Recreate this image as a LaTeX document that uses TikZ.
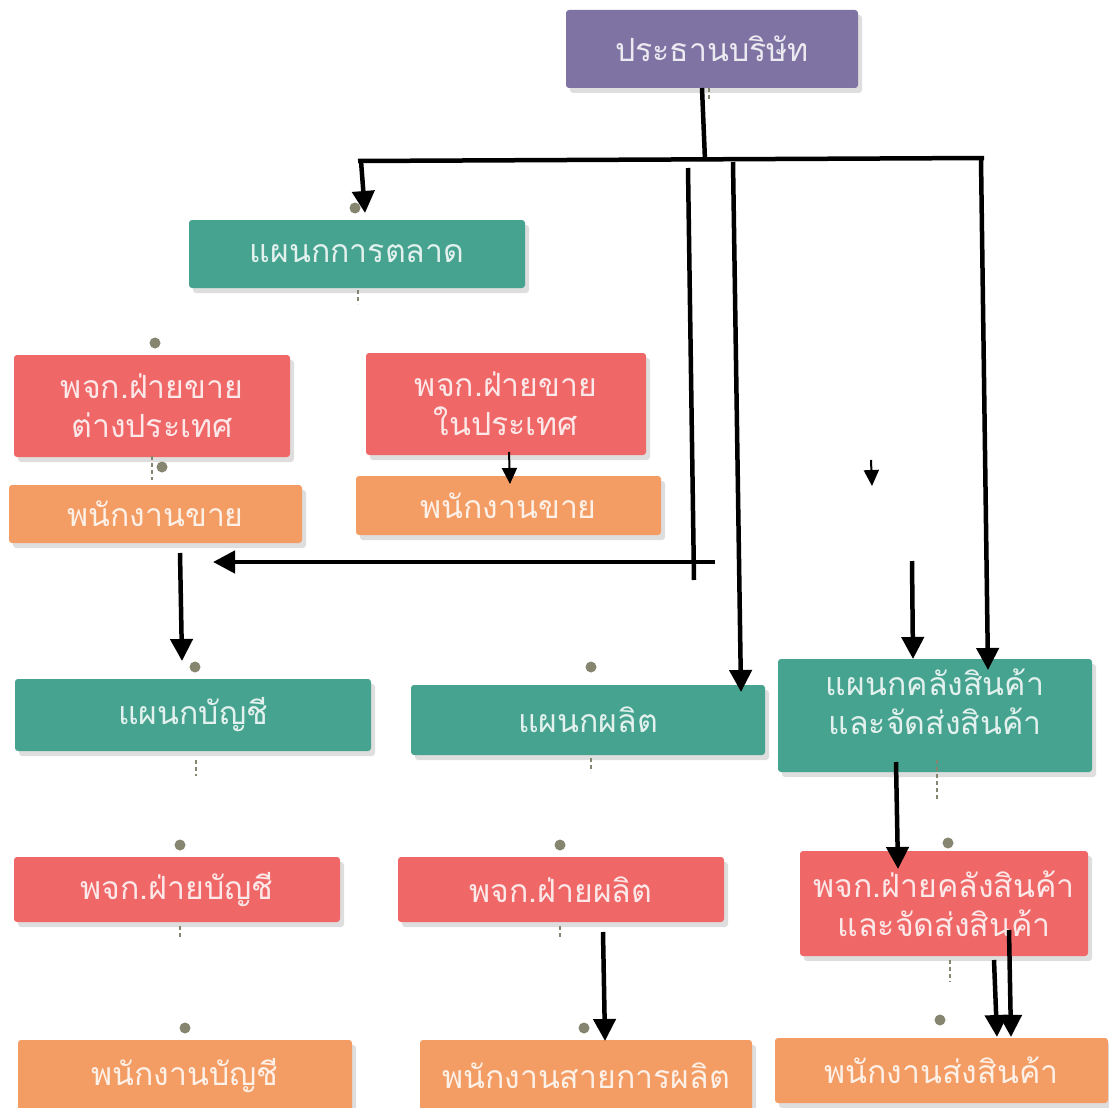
\documentclass[tikz,border=0pt]{standalone}
\usepackage{fontspec}
\newfontfamily\thai[Script=Thai]{Loma}
\usetikzlibrary{arrows.meta,shadows}
\definecolor{cpur}{HTML}{7E73A3}
\definecolor{cteal}{HTML}{46A38F}
\definecolor{cred}{HTML}{EF6767}
\definecolor{corg}{HTML}{F39C63}
\definecolor{cdot}{HTML}{858570}
\tikzset{
  box/.style={rounded corners=3pt, inner sep=0pt, align=center,
    text=white, text opacity=0.85, font=\thai\fontsize{32}{39}\selectfont,
    drop shadow={shadow xshift=4pt, shadow yshift=-5pt, opacity=0.13, fill=black}},
  pur/.style={box, fill=cpur},
  teal/.style={box, fill=cteal},
  redb/.style={box, fill=cred},
  org/.style={box, fill=corg},
  conn/.style={line width=4.5pt, black},
  arr/.style={conn, -{Triangle[width=22pt,length=22pt]}},
  smallarr/.style={line width=2pt, black, -{Triangle[width=15pt,length=16pt]}},
  gdot/.style={circle, fill=cdot, inner sep=0pt, minimum size=11pt},
  gdash/.style={cdot, line width=1.5pt, dash pattern=on 4pt off 3pt},
}
\begin{document}
\begin{tikzpicture}[x=1pt,y=-1pt]
\useasboundingbox[fill=white] (0,0) rectangle (1109,1108);
% boxes
\node[pur, minimum width=292pt, minimum height=78pt] (pres) at (712,49) {ประธานบริษัท};
\node[teal, minimum width=336pt, minimum height=68pt] (mkt) at (357,254) {แผนกการตลาด};
\node[redb, minimum width=276pt, minimum height=102pt] (msf) at (152,406) {พจก.ฝ่ายขาย\\ต่างประเทศ};
\node[redb, minimum width=280pt, minimum height=102pt] (msd) at (506,404) {พจก.ฝ่ายขาย\\ในประเทศ};
\node[org, minimum width=293pt, minimum height=58pt] (esf) at (155.5,514) {พนักงานขาย};
\node[org, minimum width=305pt, minimum height=59pt] (esd) at (508.5,505.5) {พนักงานขาย};
\node[teal, minimum width=356pt, minimum height=72pt] (acc) at (193,715) {แผนกบัญชี};
\node[teal, minimum width=354pt, minimum height=70pt] (prod) at (588,720) {แผนกผลิต};
\node[teal, minimum width=314pt, minimum height=113pt] (wh) at (935,715.5) {แผนกคลังสินค้า\\และจัดส่งสินค้า\\[-12pt]~};
\node[redb, minimum width=326pt, minimum height=65pt] (macc) at (177,889.5) {พจก.ฝ่ายบัญชี};
\node[redb, minimum width=326pt, minimum height=65pt] (mprod) at (561,889.5) {พจก.ฝ่ายผลิต};
\node[redb, minimum width=288pt, minimum height=105pt] (mwh) at (944,903.5) {พจก.ฝ่ายคลังสินค้า\\และจัดส่งสินค้า};
\node[org, minimum width=334pt, minimum height=72pt] (eacc) at (185,1076) {พนักงานบัญชี};
\node[org, minimum width=332pt, minimum height=72pt] (eprod) at (586,1076) {พนักงานสายการผลิต};
\node[org, minimum width=333pt, minimum height=65pt] (ewh) at (941.5,1070.5) {พนักงานส่งสินค้า};
% grey connector dots and dashes
\foreach \p/\n in {{(355,208)}/d1,{(155,343)}/d2,{(162,467)}/d3,{(195,667)}/d4,{(591,667)}/d5,{(180,845)}/d6,{(560,845)}/d7,{(185,1028)}/d8,{(584,1028)}/d9,{(948,843)}/d10,{(940,1020)}/d11}
  \node[gdot] (\n) at \p {};
\foreach \a/\b in {{(709,88)}/{(709,100)},{(358,290)}/{(358,304)},{(152,456)}/{(152,480)},{(196,760)}/{(196,776)},{(591,758)}/{(591,772)},{(180,926)}/{(180,938)},{(560,926)}/{(560,938)},{(937,760)}/{(937,800)},{(950,960)}/{(950,982)}}
  \draw[gdash] \a -- \b;
% connector coordinates
\coordinate (p0) at (702,88);
\coordinate (j0) at (705,160);
\coordinate (hl) at (358,161);
\coordinate (hr) at (984,158);
\coordinate (jl) at (361,161);
\coordinate (tm) at (365,213);
\coordinate (jr) at (981,159);
\coordinate (twh) at (988,670);
\coordinate (a3s) at (733,162);
\coordinate (tprod) at (741,692);
\coordinate (a4s) at (688,168);
\coordinate (a4e) at (694,580);
\coordinate (h5s) at (715,562);
\coordinate (tleft) at (213,562);
\coordinate (a6s) at (180,553);
\coordinate (tacc) at (182,661);
\coordinate (a7s) at (509,452);
\coordinate (tesd) at (510,484);
\coordinate (a8s) at (871,460);
\coordinate (a8e) at (872,486);
\coordinate (a9s) at (912,561);
\coordinate (twh2) at (913,659);
\coordinate (a10s) at (896,762);
\coordinate (tmwh) at (898,869);
\coordinate (a11s) at (603,932);
\coordinate (teprod) at (605,1041);
\coordinate (a12s) at (1009,930);
\coordinate (tewh1) at (1011,1037);
\coordinate (a13s) at (994,960);
\coordinate (tewh2) at (997,1037);
% connectors
\draw[conn] (p0) -- (j0);
\draw[conn] (hl) -- (hr);
\draw[arr] (jl) -- (tm);
\draw[arr] (jr) -- (twh);
\draw[arr] (a3s) -- (tprod);
\draw[conn] (a4s) -- (a4e);
\draw[arr] (h5s) -- (tleft);
\draw[arr] (a6s) -- (tacc);
\draw[smallarr] (a7s) -- (tesd);
\draw[smallarr] (a8s) -- (a8e);
\draw[arr] (a9s) -- (twh2);
\draw[arr] (a10s) -- (tmwh);
\draw[arr] (a11s) -- (teprod);
\draw[arr] (a12s) -- (tewh1);
\draw[arr] (a13s) -- (tewh2);
\end{tikzpicture}
\end{document}
